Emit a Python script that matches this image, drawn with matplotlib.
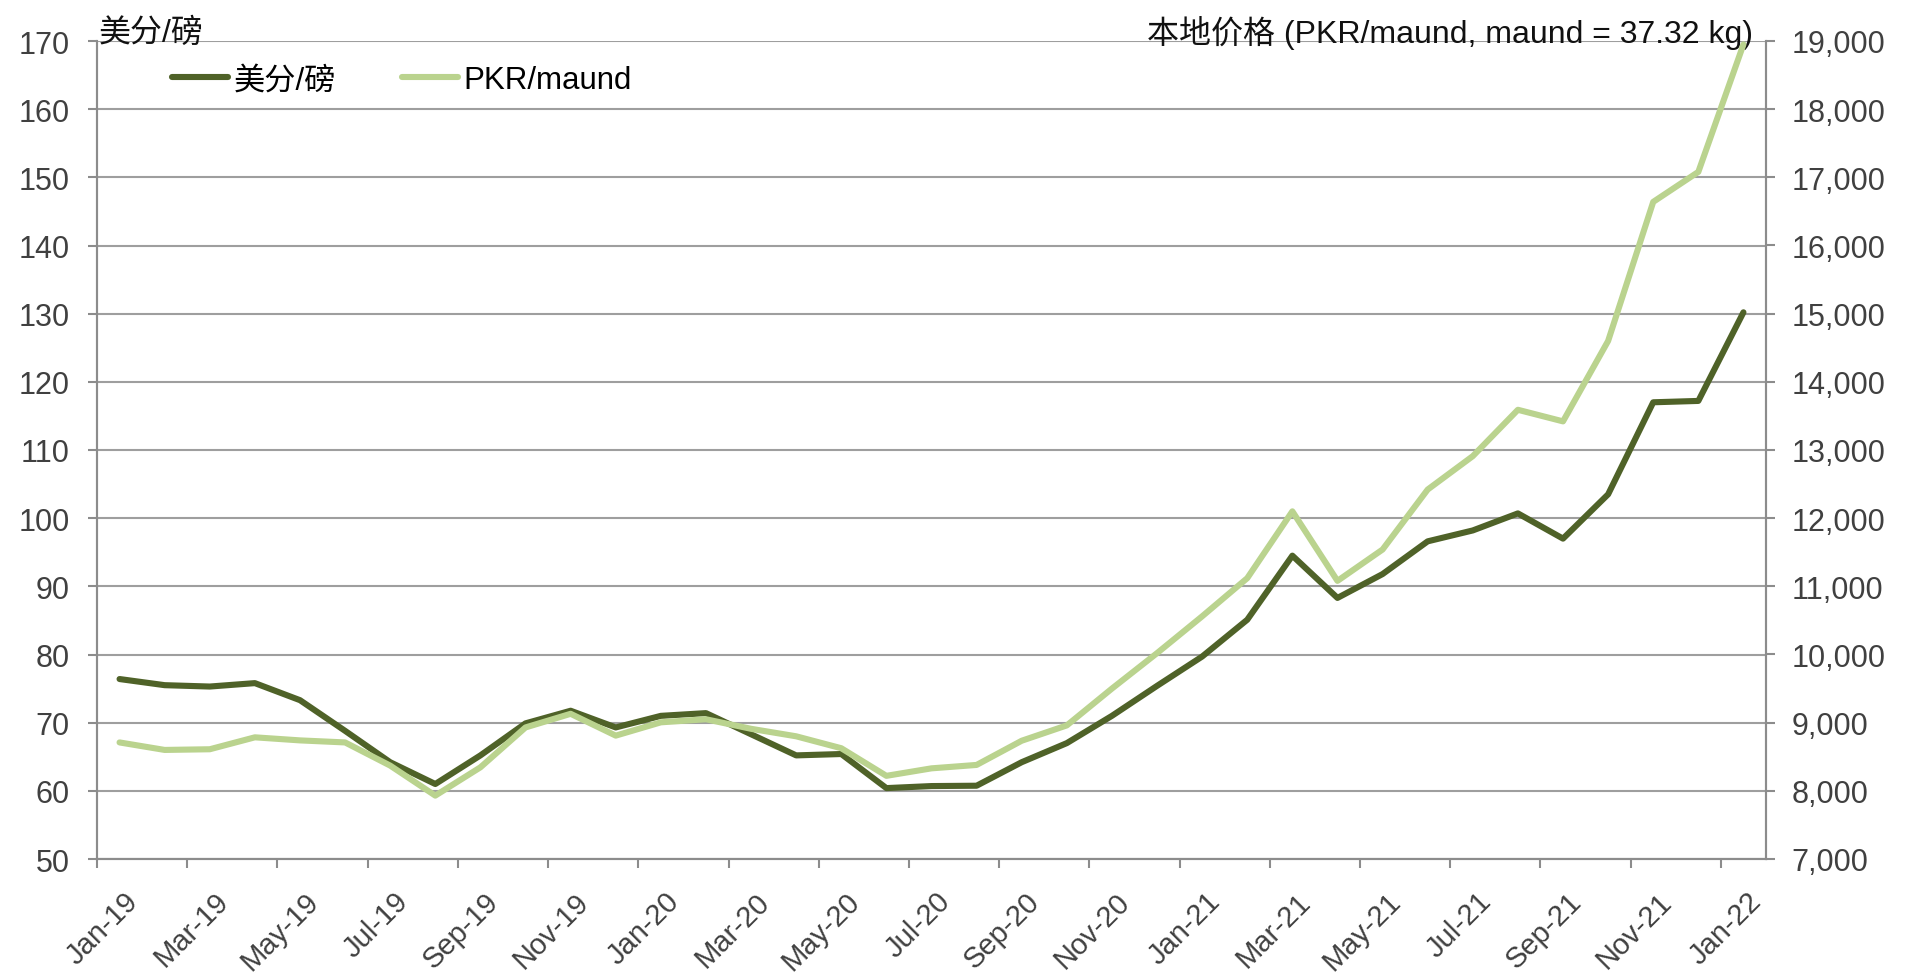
import matplotlib
matplotlib.use("Agg")
import matplotlib.pyplot as plt
from matplotlib.ticker import FixedLocator, FuncFormatter
from matplotlib.transforms import ScaledTranslation

plt.rcParams['font.family'] = ['Liberation Sans', 'Noto Sans CJK SC', 'DejaVu Sans']

# Monthly data, Jan-19 .. Jan-22
months = ["Jan-19", "Feb-19", "Mar-19", "Apr-19", "May-19", "Jun-19", "Jul-19", "Aug-19",
          "Sep-19", "Oct-19", "Nov-19", "Dec-19", "Jan-20", "Feb-20", "Mar-20", "Apr-20",
          "May-20", "Jun-20", "Jul-20", "Aug-20", "Sep-20", "Oct-20", "Nov-20", "Dec-20",
          "Jan-21", "Feb-21", "Mar-21", "Apr-21", "May-21", "Jun-21", "Jul-21", "Aug-21",
          "Sep-21", "Oct-21", "Nov-21", "Dec-21", "Jan-22"]

# US cents / lb (left axis)
usc_per_lb = [76.4, 75.5, 75.3, 75.8, 73.3, 68.8, 64.2, 61.0, 65.2, 69.9, 71.75, 69.3,
              71.0, 71.4, 68.3, 65.2, 65.4, 60.4, 60.7, 60.75, 64.2, 67.0, 71.0, 75.4,
              79.7, 85.1, 94.5, 88.3, 91.8, 96.6, 98.2, 100.7, 97.0, 103.5, 117.0, 117.2,
              130.2]

# PKR / maund (right axis)
pkr_per_maund = [8710, 8600, 8610, 8785, 8740, 8710, 8370, 7930, 8345, 8930, 9130, 8810,
                 9005, 9050, 8910, 8800, 8625, 8220, 8330, 8380, 8735, 8960, 9500, 10020,
                 10560, 11120, 12100, 11080, 11540, 12420, 12910, 13590, 13420, 14600, 16640,
                 17080, 18950]

dark_green = "#4F6228"
light_green = "#BAD38E"
grid_col = "#9E9E9E"
axis_col = "#8C8C8C"
label_col = "#404040"
fs_y = 22
fs_x = 21
fs_text = 23

fig = plt.figure(figsize=(19.05, 9.79), dpi=100)
ax = fig.add_axes([97 / 1905, 1 - 860 / 979, (1766 - 97) / 1905, (860 - 42) / 979])
ax2 = ax.twinx()

x = list(range(len(months)))
l1, = ax.plot(x, usc_per_lb, color=dark_green, lw=4.4, solid_joinstyle='round',
              solid_capstyle='round', label="美分/磅", zorder=3)
l2, = ax2.plot(x, pkr_per_maund, color=light_green, lw=4.4, solid_joinstyle='round',
               solid_capstyle='round', label="PKR/maund", zorder=3)

ax.set_xlim(-0.5, len(months) - 0.5)
ax.set_ylim(50, 170)
ax2.set_ylim(7000, 19000)
ax.set_yticks(range(50, 171, 10))
ax2.set_yticks(range(7000, 19001, 1000))
ax2.yaxis.set_major_formatter(FuncFormatter(lambda v, p: f"{int(v):,}"))

# category labels every 2 months, tick marks on category boundaries
ax.xaxis.set_major_locator(FixedLocator(x[::2]))
ax.set_xticklabels(months[::2], rotation=45, ha='right', va='top', rotation_mode='anchor')
ax.xaxis.set_minor_locator(FixedLocator([i - 0.5 for i in x[::2]]))
ax.tick_params(axis='x', which='major', length=0, pad=20, labelsize=fs_x, labelcolor=label_col)
ax.tick_params(axis='x', which='minor', length=6.5, width=1.5, color=axis_col, direction='out')
ax.tick_params(axis='y', length=6.5, width=1.5, color=axis_col, pad=13,
               labelsize=fs_y, labelcolor=label_col)
ax2.tick_params(axis='y', length=6.5, width=1.5, color=axis_col, pad=12,
                labelsize=fs_y, labelcolor=label_col)
shift = ScaledTranslation(4 / 100, 0, fig.dpi_scale_trans)
for lab in ax.get_xticklabels():
    lab.set_transform(lab.get_transform() + shift)

ax.grid(axis='y', color=grid_col, lw=1.5, zorder=0)
ax.set_axisbelow(True)
for a in (ax, ax2):
    a.spines['top'].set_visible(False)
    for s in ('left', 'right', 'bottom'):
        a.spines[s].set_color(axis_col)
        a.spines[s].set_linewidth(1.5)

ax.text(0.001, 1.0, "美分/磅", transform=ax.transAxes, ha='left', va='baseline',
        fontsize=fs_text, color="#111111")
ax.text(0.992, 0.999, "本地价格 (PKR/maund, maund = 37.32 kg)", transform=ax.transAxes,
        ha='right', va='baseline', fontsize=fs_text, color="#111111")

ax2.legend(handles=[l1, l2], loc='center left', bbox_to_anchor=(0.045, 0.952),
           ncol=2, frameon=False, fontsize=22.5, handlelength=1.8, handletextpad=0.17,
           columnspacing=2.1, borderpad=0, borderaxespad=0)

fig.savefig("out.png", dpi=100)
